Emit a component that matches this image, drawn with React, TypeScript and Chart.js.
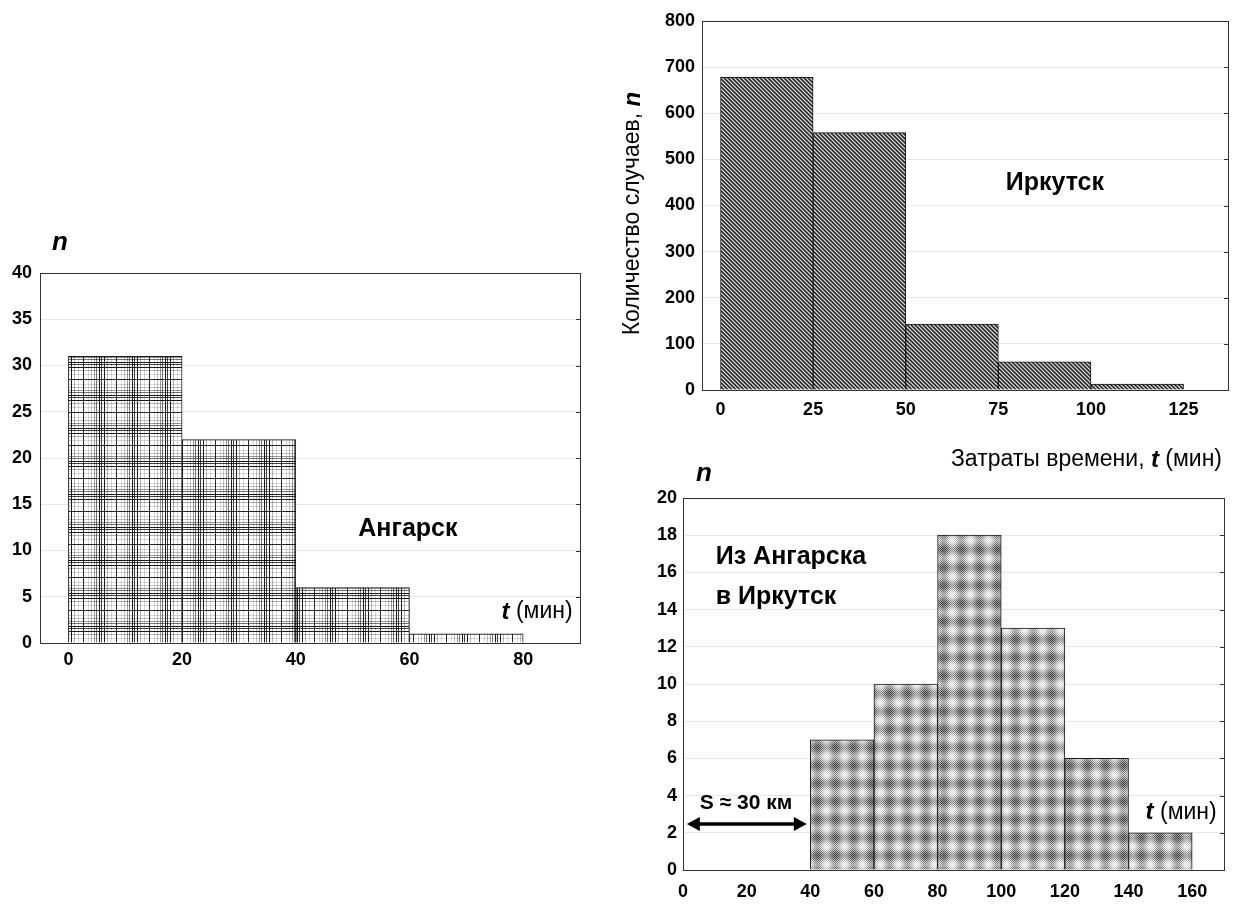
import React, { useEffect, useRef } from 'react';
import { Chart, registerables } from 'chart.js';
Chart.register(...registerables);

// ---- Data ----
const angBinStarts = [0, 20, 40, 60];
const angCounts = [31, 22, 6, 1];
const angBinWidth = 20;
const angXTicks = [0, 20, 40, 60, 80];
const angYTicks = [0, 5, 10, 15, 20, 25, 30, 35, 40];

const irkBinStarts = [0, 25, 50, 75, 100];
const irkCounts = [678, 558, 143, 61, 13];
const irkBinWidth = 25;
const irkXTicks = [0, 25, 50, 75, 100, 125];
const irkYTicks = [0, 100, 200, 300, 400, 500, 600, 700, 800];

const a2iBinStarts = [40, 60, 80, 100, 120, 140];
const a2iCounts = [7, 10, 18, 13, 6, 2];
const a2iBinWidth = 20;
const a2iXTicks = [0, 20, 40, 60, 80, 100, 120, 140, 160];
const a2iYTicks = [0, 2, 4, 6, 8, 10, 12, 14, 16, 18, 20];

const FAM = "'Liberation Sans', Arial, Helvetica, sans-serif";
const TICK_FONT = { family: FAM, size: 18, weight: 'bold' as const };

// ---- Patterns ----
function plaidPattern(): CanvasPattern {
  const P = 33;
  const c = document.createElement('canvas');
  c.width = P; c.height = P;
  const g = c.getContext('2d')!;
  g.fillStyle = '#fff';
  g.fillRect(0, 0, P, P);
  const lines: [number, number][] = [
    [0, 0.9], [2, 0.75], [5, 0.9], [8, 0.3], [12, 0.15], [17, 0.85], [22, 0.15], [25, 0.25], [28, 0.4], [30, 0.55],
  ];
  for (const [p, a] of lines) {
    g.fillStyle = `rgba(0,0,0,${a})`;
    g.fillRect(p, 0, 1, P);
    g.fillRect(0, p, P, 1);
  }
  return g.createPattern(c, 'repeat')!;
}

function diagPattern(): CanvasPattern {
  const P = 4;
  const c = document.createElement('canvas');
  c.width = P; c.height = P;
  const g = c.getContext('2d')!;
  const img = g.createImageData(P, P);
  const cols = [40, 85, 220, 125];
  for (let y = 0; y < P; y++) {
    for (let x = 0; x < P; x++) {
      const k = (((x - y) % P) + P) % P;
      const v = cols[k];
      const i = (y * P + x) * 4;
      img.data[i] = v; img.data[i + 1] = v; img.data[i + 2] = v; img.data[i + 3] = 255;
    }
  }
  g.putImageData(img, 0, 0);
  return g.createPattern(c, 'repeat')!;
}

function moirePattern(): CanvasPattern {
  const P = 18;
  const c = document.createElement('canvas');
  c.width = P; c.height = P;
  const g = c.getContext('2d')!;
  const img = g.createImageData(P, P);
  for (let y = 0; y < P; y++) {
    for (let x = 0; x < P; x++) {
      const f = (Math.cos((2 * Math.PI * x) / P) + Math.cos((2 * Math.PI * y) / P)) / 2;
      const base = 172 + 70 * f;
      const chk = (x + y) & 1 ? 1 : -1;
      const amp = 12 + 40 * (1 - f) / 2;
      let v = base + chk * amp;
      v = Math.max(0, Math.min(255, v));
      const i = (y * P + x) * 4;
      img.data[i] = v; img.data[i + 1] = v; img.data[i + 2] = v; img.data[i + 3] = 255;
    }
  }
  g.putImageData(img, 0, 0);
  return g.createPattern(c, 'repeat')!;
}

// ---- Helpers ----
type Part = { t: string; font: string };
function drawRich(ctx: CanvasRenderingContext2D, parts: Part[], x: number, y: number, align: 'left' | 'right' | 'center') {
  let total = 0;
  for (const p of parts) { ctx.font = p.font; total += ctx.measureText(p.t).width; }
  let cx = align === 'left' ? x : align === 'right' ? x - total : x - total / 2;
  ctx.textBaseline = 'middle';
  ctx.textAlign = 'left';
  ctx.fillStyle = '#000';
  for (const p of parts) {
    ctx.font = p.font;
    ctx.fillText(p.t, cx, y);
    cx += ctx.measureText(p.t).width;
  }
}

const BOLD_ANN = `bold 25px ${FAM}`;
const REG_T = `23px ${FAM}`;
const BI_T = `bold italic 24px ${FAM}`;
const BI_N = `bold italic 26px ${FAM}`;

function framePlugin(extra: (chart: any) => void) {
  return {
    id: 'frame' + Math.random().toString(36).slice(2),
    afterDraw(chart: any) {
      const ctx: CanvasRenderingContext2D = chart.ctx;
      const a = chart.chartArea;
      const ys = chart.scales.y;
      ctx.save();
      ctx.strokeStyle = '#333';
      ctx.lineWidth = 1;
      ctx.beginPath();
      for (const t of ys.ticks) {
        const py = Math.round(ys.getPixelForValue(t.value)) + 0.5;
        ctx.moveTo(a.right, py);
        ctx.lineTo(a.right - 4, py);
      }
      ctx.stroke();
      ctx.strokeRect(Math.round(a.left) + 0.5, Math.round(a.top) + 0.5, Math.round(a.right - a.left), Math.round(a.bottom - a.top));
      extra(chart);
      ctx.restore();
    },
  };
}

function makeConfig(opts: {
  starts: number[]; counts: number[]; width: number; pattern: CanvasPattern;
  xMin: number; xMax: number; xTicks: number[]; yMax: number; yTicks: number[];
  yWidth: number; xHeight: number; padding: { top: number; right: number; left: number; bottom: number };
  yPad: number; xPad: number; extra: (chart: any) => void;
}): any {
  return {
    type: 'bar',
    data: {
      datasets: [{
        data: opts.starts.map((s, i) => ({ x: s + opts.width / 2, y: opts.counts[i] })),
        backgroundColor: opts.pattern,
        borderColor: '#1a1a1a',
        borderWidth: 1,
        barPercentage: 1,
        categoryPercentage: 1,
      }],
    },
    options: {
      responsive: false,
      maintainAspectRatio: false,
      animation: false,
      layout: { padding: opts.padding },
      plugins: { legend: { display: false }, tooltip: { enabled: false }, title: { display: false } },
      scales: {
        x: {
          type: 'linear', min: opts.xMin, max: opts.xMax, offset: false,
          grid: { display: false, drawTicks: false, offset: false },
          border: { display: false },
          ticks: { padding: opts.xPad, font: TICK_FONT, color: '#000', maxRotation: 0, autoSkip: false },
          afterBuildTicks: (s: any) => { s.ticks = opts.xTicks.map((v) => ({ value: v })); },
          afterFit: (s: any) => { s.height = opts.xHeight; },
        },
        y: {
          type: 'linear', min: 0, max: opts.yMax,
          grid: { color: '#e6e6e6', drawTicks: false },
          border: { display: false },
          ticks: { padding: opts.yPad, font: TICK_FONT, color: '#000', autoSkip: false },
          afterBuildTicks: (s: any) => { s.ticks = opts.yTicks.map((v) => ({ value: v })); },
          afterFit: (s: any) => { s.width = opts.yWidth; },
        },
      },
    },
    plugins: [framePlugin(opts.extra)],
  };
}

export default function App() {
  const r1 = useRef<HTMLCanvasElement>(null);
  const r2 = useRef<HTMLCanvasElement>(null);
  const r3 = useRef<HTMLCanvasElement>(null);

  useEffect(() => {
    const c1 = new Chart(r1.current!, makeConfig({
      starts: angBinStarts, counts: angCounts, width: angBinWidth, pattern: plaidPattern(),
      xMin: -5, xMax: 90, xTicks: angXTicks, yMax: 40, yTicks: angYTicks,
      yWidth: 40, xHeight: 47, padding: { top: 43, right: 20, left: 0, bottom: 0 },
      yPad: 8, xPad: 6,
      extra: (chart) => {
        const ctx = chart.ctx; const x = chart.scales.x; const y = chart.scales.y; const a = chart.chartArea;
        drawRich(ctx, [{ t: 'n', font: BI_N }], a.left + 20, a.top - 30, 'center');
        drawRich(ctx, [{ t: 'Ангарск', font: BOLD_ANN }], x.getPixelForValue(51), y.getPixelForValue(12.3), 'left');
        drawRich(ctx, [{ t: 't', font: BI_T }, { t: ' (мин)', font: REG_T }], x.getPixelForValue(88.7), y.getPixelForValue(3.35), 'right');
      },
    }));

    const c2 = new Chart(r2.current!, makeConfig({
      starts: irkBinStarts, counts: irkCounts, width: irkBinWidth, pattern: diagPattern(),
      xMin: -5, xMax: 137, xTicks: irkXTicks, yMax: 800, yTicks: irkYTicks,
      yWidth: 92, xHeight: 90, padding: { top: 21, right: 11, left: 0, bottom: 0 },
      yPad: 7, xPad: 9,
      extra: (chart) => {
        const ctx = chart.ctx; const x = chart.scales.x; const y = chart.scales.y; const a = chart.chartArea;
        drawRich(ctx, [{ t: 'Иркутск', font: BOLD_ANN }], x.getPixelForValue(77), y.getPixelForValue(449), 'left');
        drawRich(ctx, [{ t: 'Затраты времени, ', font: REG_T }, { t: 't', font: BI_T }, { t: ' (мин)', font: REG_T }], a.right - 6, a.bottom + 70, 'right');
        ctx.save();
        ctx.translate(a.left - 69, (a.top + a.bottom) / 2 + 8);
        ctx.rotate(-Math.PI / 2);
        drawRich(ctx, [{ t: 'Количество случаев, ', font: REG_T }, { t: 'n', font: BI_T }], 0, 0, 'center');
        ctx.restore();
      },
    }));

    const c3 = new Chart(r3.current!, makeConfig({
      starts: a2iBinStarts, counts: a2iCounts, width: a2iBinWidth, pattern: moirePattern(),
      xMin: 0, xMax: 170, xTicks: a2iXTicks, yMax: 20, yTicks: a2iYTicks,
      yWidth: 73, xHeight: 34, padding: { top: 48, right: 15, left: 0, bottom: 0 },
      yPad: 6, xPad: 11,
      extra: (chart) => {
        const ctx: CanvasRenderingContext2D = chart.ctx; const x = chart.scales.x; const y = chart.scales.y; const a = chart.chartArea;
        drawRich(ctx, [{ t: 'n', font: BI_N }], a.left + 21, a.top - 24, 'center');
        drawRich(ctx, [{ t: 'Из Ангарска', font: BOLD_ANN }], x.getPixelForValue(10.3), y.getPixelForValue(16.83), 'left');
        drawRich(ctx, [{ t: 'в Иркутск', font: BOLD_ANN }], x.getPixelForValue(10.3), y.getPixelForValue(14.68), 'left');
        drawRich(ctx, [{ t: 't', font: BI_T }, { t: ' (мин)', font: REG_T }], x.getPixelForValue(167.7), y.getPixelForValue(3.1), 'right');
        drawRich(ctx, [{ t: 'S ≈ 30 км', font: `bold 21px ${FAM}` }], x.getPixelForValue(19.8), y.getPixelForValue(3.6), 'center');
        // double arrow
        const x1 = x.getPixelForValue(1.2), x2 = x.getPixelForValue(38.9), py = y.getPixelForValue(2.47);
        const hl = 13, hw = 7;
        ctx.save();
        ctx.strokeStyle = '#000'; ctx.fillStyle = '#000'; ctx.lineWidth = 3.5;
        ctx.beginPath(); ctx.moveTo(x1 + hl - 2, py); ctx.lineTo(x2 - hl + 2, py); ctx.stroke();
        ctx.beginPath(); ctx.moveTo(x1, py); ctx.lineTo(x1 + hl, py - hw); ctx.lineTo(x1 + hl, py + hw); ctx.closePath(); ctx.fill();
        ctx.beginPath(); ctx.moveTo(x2, py); ctx.lineTo(x2 - hl, py - hw); ctx.lineTo(x2 - hl, py + hw); ctx.closePath(); ctx.fill();
        ctx.restore();
      },
    }));

    return () => { c1.destroy(); c2.destroy(); c3.destroy(); };
  }, []);

  return (
    <div style={{ position: 'absolute', left: 0, top: 0, width: 1239, height: 904, background: '#fff', overflow: 'hidden' }}>
      <canvas ref={r1} width={600} height={460} style={{ position: 'absolute', left: 0, top: 230, width: 600, height: 460 }} />
      <canvas ref={r2} width={629} height={480} style={{ position: 'absolute', left: 610, top: 0, width: 629, height: 480 }} />
      <canvas ref={r3} width={629} height={454} style={{ position: 'absolute', left: 610, top: 450, width: 629, height: 454 }} />
    </div>
  );
}
